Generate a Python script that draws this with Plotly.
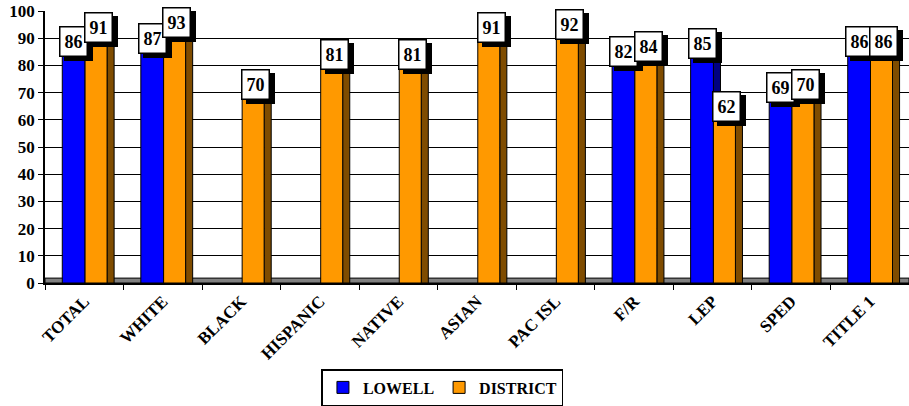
import plotly.graph_objects as go

categories = ["TOTAL", "WHITE", "BLACK", "HISPANIC", "NATIVE", "ASIAN",
              "PAC ISL", "F/R", "LEP", "SPED", "TITLE 1"]
lowell = [86, 87, None, None, None, None, None, 82, 85, 69, 86]
district = [91, 93, 70, 81, 81, 91, 92, 84, 62, 70, 86]
y_ticks = list(range(0, 101, 10))

BLUE = "#0000FF"
NAVY = "#000080"
ORANGE = "#FF9900"
BROWN = "#7F4C00"
FONT = "Liberation Serif"
OUTLINE = dict(color="black", width=1)

fig = go.Figure()
# 3D side faces (drawn under the fronts)
fig.add_trace(go.Bar(x=categories, y=lowell, offset=0.01, width=0.09,
                     marker=dict(color=NAVY, line=OUTLINE),
                     showlegend=False, hoverinfo="skip"))
fig.add_trace(go.Bar(x=categories, y=lowell, name="LOWELL", offset=-0.28, width=0.29,
                     marker=dict(color=BLUE, line=OUTLINE)))
fig.add_trace(go.Bar(x=categories, y=district, offset=0.29, width=0.09,
                     marker=dict(color=BROWN, line=OUTLINE),
                     showlegend=False, hoverinfo="skip"))
fig.add_trace(go.Bar(x=categories, y=district, name="DISTRICT", offset=0.01, width=0.28,
                     marker=dict(color=ORANGE, line=OUTLINE)))

annotations = []
for series, dx in ((lowell, -0.135), (district, 0.18)):
    for i, v in enumerate(series):
        if v is None:
            continue
        # shadow box
        annotations.append(dict(x=i + dx, y=v, xref="x", yref="y", text=" ",
                                showarrow=False, xshift=5, yshift=4, width=24, height=26,
                                bgcolor="black", bordercolor="black", borderwidth=1.5,
                                yanchor="middle", xanchor="center",
                                font=dict(family=FONT, size=18, color="black")))
        annotations.append(dict(x=i + dx, y=v, xref="x", yref="y", text=str(v),
                                showarrow=False, xshift=0, yshift=8, width=24, height=26,
                                bgcolor="white", bordercolor="black", borderwidth=1.5,
                                yanchor="middle", xanchor="center",
                                font=dict(family=FONT, size=18, color="black", weight="bold")))

fig.update_layout(
    width=909, height=406,
    margin=dict(l=45, r=0, t=11, b=123),
    paper_bgcolor="white", plot_bgcolor="white",
    barmode="overlay",
    showlegend=True,
    legend=dict(orientation="h", x=0.46, xanchor="center", y=-0.385, yanchor="middle",
                bordercolor="black", borderwidth=1.5, itemwidth=30,
                font=dict(family=FONT, size=16, color="black", weight="bold")),
    annotations=annotations,
    shapes=[dict(type="rect", xref="x domain", yref="y", x0=0, x1=1, y0=0, y1=1.8,
                 fillcolor="#808080", line=dict(color="black", width=1), layer="below")],
)
fig.update_xaxes(type="category", range=[-0.5, 10.5], tickangle=-45, automargin=False,
                 tickfont=dict(family=FONT, size=17, color="black", weight="bold"),
                 showline=True, linecolor="black", linewidth=1.5,
                 ticks="outside", tickson="boundaries", ticklen=5, tickcolor="black",
                 showgrid=False)
fig.update_yaxes(range=[0, 100], tickvals=y_ticks, automargin=False,
                 tickfont=dict(family=FONT, size=17, color="black", weight="bold"),
                 showline=True, linecolor="black", linewidth=1.5,
                 ticks="outside", ticklen=5, tickcolor="black",
                 showgrid=True, gridcolor="black", gridwidth=1, zeroline=False)

fig.write_html("out.html", config={"displayModeBar": False},
               post_script="document.body.style.margin='0';document.body.style.overflow='hidden';")
